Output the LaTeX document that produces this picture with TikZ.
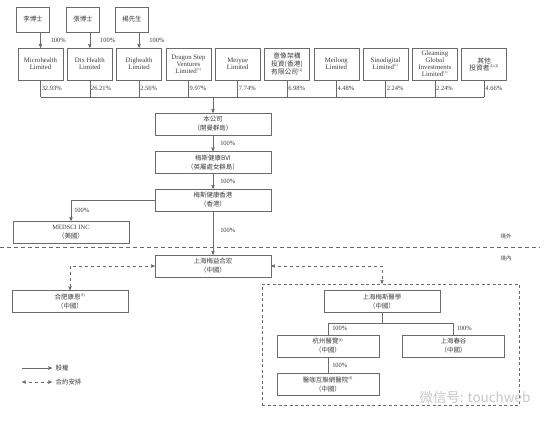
\documentclass[tikz,border=0pt]{standalone}
\usepackage{fontspec}
\setmainfont{Liberation Serif}
\newfontfamily\cjk{Noto Sans CJK TC}
\newfontfamily\wmfont{Noto Sans CJK SC}
\usetikzlibrary{arrows,positioning}
\definecolor{ink}{HTML}{3C3C3C}
\definecolor{rule}{HTML}{6A6A6A}
\newcommand\notemark[1]{\textsuperscript{\fontsize{3.5}{4}\selectfont(#1)}}
\tikzset{font=\fontsize{7}{7.7}\selectfont}
\tikzset{every node/.append style={text=ink}}
\tikzset{
  box/.style={draw=rule, align=center, inner sep=0pt, minimum width=116bp, minimum height=22bp,
              font=\cjk\fontsize{6.5}{9}\selectfont},
  shr/.style={draw=rule, align=center, inner sep=0pt, minimum width=45bp, minimum height=32bp,
              font=\fontsize{6.8}{7.1}\selectfont},
  pct/.style={anchor=west, inner sep=1bp, font=\fontsize{6.5}{7}\selectfont},
  own/.style={draw=rule, ->, >=stealth'},
  ctr/.style={draw=rule, dashed, <->, >=stealth'},
}

\begin{document}
\begin{tikzpicture}[x=1bp, y=-1bp, line width=.5bp]
  \useasboundingbox (0,0) rectangle (550,420);

  % individual holders
  \node[box, minimum width=33bp, minimum height=25bp] (li) at (33,19.5) {李博士};
  \node[box, minimum width=33bp, minimum height=25bp] (zhang) at (83,19.5) {張博士};
  \node[box, minimum width=33bp, minimum height=25bp] (yang) at (132,19.5) {楊先生};

  % shareholders
  \node[shr] (mh) at (40.5,64) {Microhealth\\Limited};
  \node[shr, right=3.8bp of mh] (dtx) {Dtx Health\\Limited};
  \node[shr, right=3.8bp of dtx] (dig) {Dighealth\\Limited};
  \node[shr, right=3.8bp of dig] (drg) {Dragon Step\\Ventures\\Limited\notemark{1}};
  \node[shr, right=3.8bp of drg] (mei) {Meiyue\\Limited};
  \node[shr, right=3.8bp of mei] (yx) {\cjk 意像架構\\\cjk 投資(香港)\\\cjk 有限公司\notemark{1}};
  \node[shr, right=3.8bp of yx] (ml) {Meilong\\Limited};
  \node[shr, right=3.8bp of ml] (sino) {Sinodigital\\Limited\notemark{1}};
  \node[shr, right=3.8bp of sino] (glm) {Gleaming\\Global\\Investments\\Limited\notemark{1}};
  \node[shr, right=3.8bp of glm] (oth) {\cjk 其他\\\cjk 投資者\notemark{1}\notemark{2}};

  \draw[own] (li.south -| mh) -- (mh.north) node[pct, midway, xshift=9bp] {100\%};
  \draw[own] (zhang.south -| dtx) -- (dtx.north) node[pct, midway, xshift=9bp] {100\%};
  \draw[own] (yang.south -| dig) -- (dig.north) node[pct, midway, xshift=9bp] {100\%};

  \coordinate (bus) at (213,97);
  \foreach \n/\p in {mh/32.93, dtx/26.21, dig/2.56, drg/9.97, mei/7.74,
                     yx/6.98, ml/4.48, sino/2.24, glm/2.24, oth/4.66}
    \draw[rule] (\n.south) -- (\n.south |- bus) node[pct, midway] {\p\%};
  \draw[rule] (mh.south |- bus) -- (oth.south |- bus);

  % group
  \node[box] (co) at (213,124) {本公司\\（開曼群島）};
  \node[box] (bvi) at (213,162.5) {梅斯健康BVI\\（英屬處女群島）};
  \node[box] (hk) at (213,200) {梅斯健康香港\\（香港）};
  \node[box] (md) at (71,232) {\rmfamily MEDSCI INC\\（美國）};
  \node[box] (ym) at (213,266) {上海梅益合宏\\（中國）};
  \node[box] (hf) at (70,301.5) {合肥康恩\notemark{3}\\（中國）};

  \draw[own] (bus) -- (co.north);
  \draw[own] (co) -- (bvi) node[pct, midway, xshift=6bp] {100\%};
  \draw[own] (bvi) -- (hk) node[pct, midway, xshift=6bp] {100\%};
  \draw[own] (hk) -- (ym) node[pct, midway, xshift=6bp, yshift=3bp] {100\%};
  \draw[own] (hk.west) -| (md.north) node[pct, pos=.75, xshift=2bp] {100\%};

  % offshore / onshore
  \draw[rule, dash pattern=on 4bp off 3bp] (0,247.5) -- (540,247.5);
  \node[font=\cjk\fontsize{5.5}{6}\selectfont] (out) at (506,236) {境外};
  \node[font=\cjk\fontsize{5.5}{6}\selectfont] (in) at (506,258) {境內};

  % VIE entities
  \node[draw=rule, dash pattern=on 3bp off 2.5bp, inner sep=0pt,
        minimum width=257bp, minimum height=121bp] (grp) at (390.5,344.5) {};
  \node[box] (ms) at (382,301.5) {上海梅斯醫學\\（中國）};
  \node[box, minimum width=102bp] (hz) at (328,346) {杭州醫覽\notemark{4}\\（中國）};
  \node[box, minimum width=102bp] (cg) at (453.5,346) {上海春谷\\（中國）};
  \node[box, minimum width=102bp] (yk) at (328,384.5) {醫咖互聯網醫院\notemark{4}\\（中國）};

  \draw[ctr] (ym.west) -| (hf.north);
  \draw[ctr] (ym.east) -| (ms |- grp.north);

  \coordinate (split) at (382,323);
  \draw[rule] (ms.south) -- (split);
  \draw[rule] (hz.north |- split) -- (cg.north |- split);
  \draw[rule] (hz.north) -- (hz.north |- split) node[pct, midway, xshift=3bp] {100\%};
  \draw[rule] (cg.north) -- (cg.north |- split) node[pct, midway, xshift=2bp] {100\%};
  \draw[rule] (hz) -- (yk) node[pct, midway, xshift=3bp] {100\%};

  % legend
  \coordinate (k1) at (22,368);
  \coordinate (k2) at (52,368);
  \coordinate (k3) at (22,382);
  \coordinate (k4) at (52,382);
  \draw[own] (k1) -- (k2) node[right, font=\cjk\fontsize{6.5}{7}\selectfont] (kown) {股權};
  \draw[ctr] (k3) -- (k4) node[right, font=\cjk\fontsize{6.5}{7}\selectfont] (kctr) {合約安排};

  \node[anchor=west, text=black!22, font=\wmfont\fontsize{13.5}{14}\selectfont] (wm) at (416,397) {微信号: touchweb};
\end{tikzpicture}
\end{document}
